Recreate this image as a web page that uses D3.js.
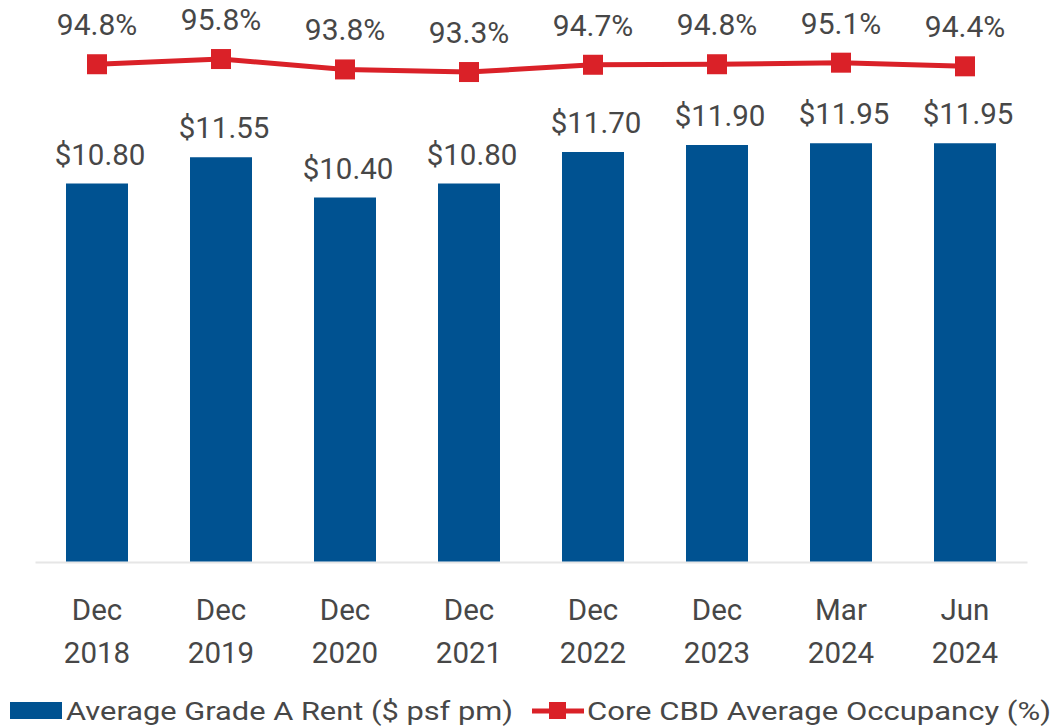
<!DOCTYPE html>
<html><head><meta charset="utf-8">
<script src="https://cdn.jsdelivr.net/npm/d3@7"></script>
<style>body{margin:0;background:#fff}svg{display:block}text{font-family:Roboto,"Noto Sans",sans-serif;fill:#474747}</style>
</head><body><svg id="c" width="1058" height="728"></svg>
<script>
const periods = ["Dec 2018","Dec 2019","Dec 2020","Dec 2021","Dec 2022","Dec 2023","Mar 2024","Jun 2024"];
const rent = [10.80, 11.55, 10.40, 10.80, 11.70, 11.90, 11.95, 11.95];
const occupancy = [94.8, 95.8, 93.8, 93.3, 94.7, 94.8, 95.1, 94.4];
const seriesNames = ["Average Grade A Rent ($ psf pm)", "Core CBD Average Occupancy (%)"];
const BLUE = "#005291", RED = "#DA2128";

const svg = d3.select("#c");
const x = d3.scaleBand().domain(periods).range([35, 1027]).paddingInner(0.5).paddingOuter(0.25);
const y = d3.scaleLinear().domain([0, 16]).range([561.5, 1.5]);
const y2 = d3.scaleLinear().domain([0, 100]).range([557.2, 37.2]);

// baseline axis
const xAxis = svg.append("g").attr("transform","translate(0,562)")
  .call(d3.axisBottom(x).tickSize(0).tickFormat(""));
xAxis.select(".domain").attr("stroke","#e6e6e6").attr("stroke-width",2);

// bars
svg.selectAll("rect.bar").data(rent).join("rect").attr("class","bar")
  .attr("x",(d,i)=>x(periods[i])).attr("width",x.bandwidth())
  .attr("y",d=>y(d)).attr("height",d=>y(0)-y(d)).attr("fill",BLUE);

svg.selectAll("text.bl").data(rent).join("text").attr("class","bl")
  .attr("x",(d,i)=>x(periods[i])+x.bandwidth()/2+3).attr("y",d=>y(d)-19)
  .attr("text-anchor","middle").attr("font-size",29.5)
  .text(d=>"$"+d.toFixed(2));

// x labels
periods.forEach((p,i)=>{
  const parts = p.split(" ");
  const t = svg.append("text").attr("text-anchor","middle").attr("font-size",29.5)
    .attr("x", x(p)+x.bandwidth()/2);
  t.append("tspan").attr("x", x(p)+x.bandwidth()/2).attr("y",620).text(parts[0]);
  t.append("tspan").attr("x", x(p)+x.bandwidth()/2).attr("y",663).text(parts[1]);
});

// line
const cx = (d,i)=>x(periods[i])+x.bandwidth()/2;
svg.append("path").datum(occupancy)
  .attr("d", d3.line().x(cx).y(d=>y2(d)))
  .attr("fill","none").attr("stroke",RED).attr("stroke-width",5);
svg.selectAll("rect.mk").data(occupancy).join("rect").attr("class","mk")
  .attr("x",(d,i)=>cx(d,i)-10).attr("y",d=>y2(d)-10)
  .attr("width",20).attr("height",20).attr("fill",RED);
svg.selectAll("text.pl").data(occupancy).join("text").attr("class","pl")
  .attr("x",(d,i)=>cx(d,i)).attr("y",d=>y2(d)-29)
  .attr("text-anchor","middle").attr("font-size",30)
  .text(d=>d.toFixed(1)+"%");

// legend
const lg = svg.append("g");
lg.append("rect").attr("x",10).attr("y",702).attr("width",52).attr("height",17).attr("fill",BLUE);
lg.append("text").attr("x",66).attr("y",720).attr("font-size",26.5)
  .attr("textLength",447).attr("lengthAdjust","spacingAndGlyphs").text(seriesNames[0]);
lg.append("line").attr("x1",532).attr("x2",584).attr("y1",711).attr("y2",711)
  .attr("stroke",RED).attr("stroke-width",5);
lg.append("rect").attr("x",549).attr("y",702).attr("width",17).attr("height",17).attr("fill",RED);
lg.append("text").attr("x",587).attr("y",720).attr("font-size",26.5)
  .attr("textLength",464).attr("lengthAdjust","spacingAndGlyphs").text(seriesNames[1]);
</script></body></html>
